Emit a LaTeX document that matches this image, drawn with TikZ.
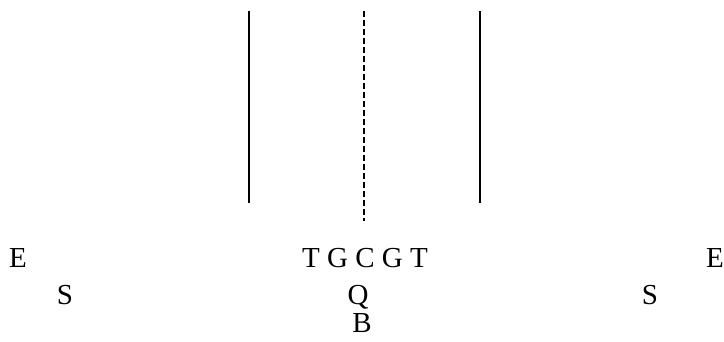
\documentclass[tikz,border=0pt]{standalone}
\usepackage{fontspec}
\setmainfont{Liberation Serif}
\usepackage{tikz}
\usetikzlibrary{calc}

\begin{document}
\begin{tikzpicture}[x=1pt, y=1pt, every node/.style={font=\fontsize{29}{29}\selectfont, inner sep=0pt, anchor=base}]
            \useasboundingbox (0,0) rectangle (724,341);
            \coordinate (L1) at (249,330); \coordinate (L2) at (249,138);
            \coordinate (M1) at (364,330); \coordinate (M2) at (364,120);
            \coordinate (R1) at (480,330); \coordinate (R2) at (480,138);
            \draw[line width=1.2pt] (L1) -- (L2);
            \draw[line width=1.2pt] (R1) -- (R2);
            \draw[line width=1.2pt, dash pattern=on 6pt off 3pt] (M1) -- (M2);
            \node (El) at (18,74) {E};
            \node (Sl) at (65,37) {S};
            \node (TG) at (365,74) {T G C G T};
            \node (Q) at (358,37) {Q};
            \node (B) at (362,9) {B};
            \node (Sr) at (650,37) {S};
            \node (Er) at (715,74) {E};
            %\draw (TG) -- (Q);
        \end{tikzpicture}
\end{document}
